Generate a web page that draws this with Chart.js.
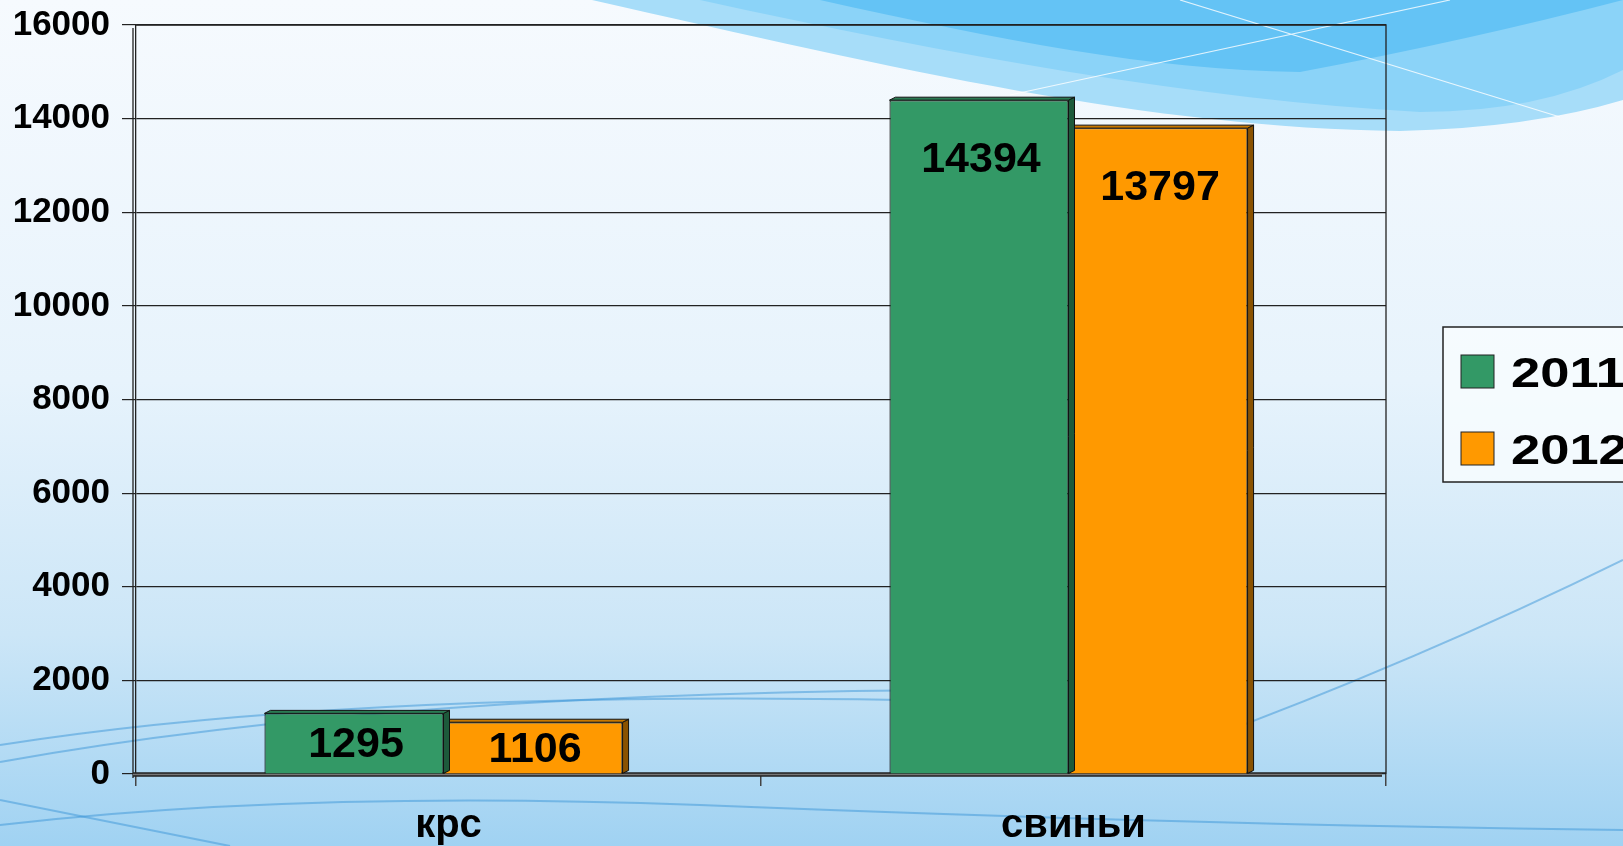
<!DOCTYPE html>
<html>
<head>
<meta charset="utf-8">
<script src="https://cdn.jsdelivr.net/npm/chart.js@4.4.0/dist/chart.umd.min.js"></script>
<style>
  html, body { margin: 0; padding: 0; overflow: hidden; background: #e4f2fb; }
  #chart { display: block; }
</style>
</head>
<body>
<canvas id="chart" width="1623" height="846"></canvas>
<script>
// data
var categories = ['крс', 'свиньи'];
var seriesNames = ['2011', '2012'];
var values2011 = [1295, 14394];
var values2012 = [1106, 13797];
var yMin = 0, yMax = 16000, yStep = 2000;

var FONT = "'Liberation Sans', Arial, sans-serif";
var fillColors = ['#339966', '#ff9900'];
var sideColors = ['#1d5a3b', '#8a5200'];
var topColors = ['#2a7a52', '#c87800'];

// background picture (slide template)
var backgroundPlugin = {
    id: 'slideBackground',
    beforeDraw: function(chart) {
        var ctx = chart.ctx, W = chart.width, H = chart.height;
        ctx.save();
        var g = ctx.createLinearGradient(0, 0, 0, H);
        g.addColorStop(0, '#f6fafe');
        g.addColorStop(0.45, '#e7f3fc');
        g.addColorStop(0.75, '#cce6f7');
        g.addColorStop(1, '#a0d2f2');
        ctx.fillStyle = g;
        ctx.fillRect(0, 0, W, H);

        // top right swoosh
        ctx.fillStyle = '#a7ddf9';
        ctx.beginPath();
        ctx.moveTo(592, 0);
        ctx.bezierCurveTo(900, 70, 1150, 128, 1400, 131);
        ctx.quadraticCurveTo(1530, 128, 1623, 100);
        ctx.lineTo(1623, 0);
        ctx.closePath();
        ctx.fill();

        ctx.fillStyle = '#8bd3f8';
        ctx.beginPath();
        ctx.moveTo(700, 0);
        ctx.bezierCurveTo(950, 55, 1200, 100, 1420, 112);
        ctx.quadraticCurveTo(1540, 112, 1623, 70);
        ctx.lineTo(1623, 0);
        ctx.closePath();
        ctx.fill();

        ctx.fillStyle = '#64c3f5';
        ctx.beginPath();
        ctx.moveTo(820, 0);
        ctx.bezierCurveTo(1000, 40, 1150, 70, 1300, 72);
        ctx.quadraticCurveTo(1470, 40, 1623, 0);
        ctx.closePath();
        ctx.fill();

        ctx.strokeStyle = 'rgba(255,255,255,0.8)';
        ctx.lineWidth = 1.2;
        ctx.beginPath();
        ctx.moveTo(1010, 95); ctx.lineTo(1450, 0);
        ctx.moveTo(1180, 0); ctx.lineTo(1560, 117);
        ctx.stroke();

        // thin curves at the bottom
        ctx.strokeStyle = 'rgba(60,150,215,0.5)';
        ctx.lineWidth = 2;
        ctx.beginPath();
        ctx.moveTo(0, 825);
        ctx.quadraticCurveTo(300, 790, 700, 805);
        ctx.quadraticCurveTo(1200, 825, 1623, 830);
        ctx.stroke();
        ctx.beginPath();
        ctx.moveTo(0, 762);
        ctx.quadraticCurveTo(400, 690, 1000, 690);
        ctx.stroke();
        ctx.beginPath();
        ctx.moveTo(0, 745);
        ctx.quadraticCurveTo(350, 690, 900, 700);
        ctx.stroke();
        ctx.beginPath();
        ctx.moveTo(1190, 745);
        ctx.quadraticCurveTo(1420, 660, 1623, 560);
        ctx.stroke();
        ctx.beginPath();
        ctx.moveTo(0, 800);
        ctx.quadraticCurveTo(150, 830, 230, 846);
        ctx.stroke();
        ctx.restore();
    }
};

// walls and floor of the 3d plot box
var wallsPlugin = {
    id: 'walls',
    beforeDatasetsDraw: function(chart) {
        var ctx = chart.ctx, a = chart.chartArea;
        ctx.save();
        ctx.strokeStyle = '#222';
        ctx.lineWidth = 1.3;
        ctx.beginPath();
        ctx.moveTo(a.left, a.top); ctx.lineTo(a.right, a.top); ctx.lineTo(a.right, a.bottom);
        ctx.moveTo(a.left - 3, a.top + 3); ctx.lineTo(a.left - 3, a.bottom + 4);
        ctx.stroke();
        ctx.fillStyle = '#777';
        ctx.fillRect(a.left - 3, a.bottom - 1, a.right - a.left - 1, 3);
        ctx.lineWidth = 1.5;
        ctx.beginPath();
        ctx.moveTo(a.left - 3, a.bottom - 1); ctx.lineTo(a.right, a.bottom - 1);
        ctx.moveTo(a.left - 3, a.bottom + 2); ctx.lineTo(a.right - 4, a.bottom + 2);
        ctx.stroke();
        ctx.restore();
    }
};

// side and top faces of the bars (bars sit a little left of the category centre)
var depthX = 6, depthY = 3, shiftX = -5;
var bar3dPlugin = {
    id: 'bar3d',
    beforeDatasetsDraw: function(chart) {
        chart.ctx.save();
        chart.ctx.translate(shiftX, 0);
    },
    afterDatasetDraw: function(chart, args) {
        var ctx = chart.ctx, i = args.index;
        ctx.save();
        ctx.strokeStyle = '#111';
        ctx.lineWidth = 1;
        args.meta.data.forEach(function(bar) {
            var p = bar.getProps(['x', 'y', 'base', 'width'], true);
            var l = p.x - p.width / 2, r = p.x + p.width / 2;
            ctx.fillStyle = sideColors[i];
            ctx.beginPath();
            ctx.moveTo(r, p.y); ctx.lineTo(r + depthX, p.y - depthY);
            ctx.lineTo(r + depthX, p.base - depthY); ctx.lineTo(r, p.base);
            ctx.closePath(); ctx.fill(); ctx.stroke();
            ctx.fillStyle = topColors[i];
            ctx.beginPath();
            ctx.moveTo(l, p.y); ctx.lineTo(l + depthX, p.y - depthY);
            ctx.lineTo(r + depthX, p.y - depthY); ctx.lineTo(r, p.y);
            ctx.closePath(); ctx.fill(); ctx.stroke();
        });
        ctx.restore();
    },
    afterDatasetsDraw: function(chart) {
        var ctx = chart.ctx;
        ctx.save();
        ctx.fillStyle = '#000';
        ctx.font = 'bold 43px ' + FONT;
        ctx.textAlign = 'center';
        ctx.textBaseline = 'middle';
        chart.data.datasets.forEach(function(ds, i) {
            chart.getDatasetMeta(i).data.forEach(function(bar, j) {
                var p = bar.getProps(['x', 'y', 'base'], true);
                var ly = Math.min(p.y + 60, (p.y + p.base) / 2 + 2);
                ctx.fillText(String(ds.data[j]), p.x + 2, ly);
            });
        });
        ctx.restore();
        ctx.restore();
    }
};

// legend box on the right, partly cut by the edge
var legendPlugin = {
    id: 'sideLegend',
    afterDraw: function(chart) {
        var ctx = chart.ctx;
        ctx.save();
        ctx.fillStyle = 'rgba(250,253,255,0.75)';
        ctx.fillRect(1443, 327, 200, 155);
        ctx.strokeStyle = '#222';
        ctx.lineWidth = 1.5;
        ctx.strokeRect(1443, 327, 200, 155);
        ctx.font = 'bold 42px ' + FONT;
        ctx.textBaseline = 'middle';
        ctx.textAlign = 'left';
        chart.data.datasets.forEach(function(ds, i) {
            var yTop = 355 + i * 77;
            ctx.fillStyle = ds.backgroundColor;
            ctx.fillRect(1461, yTop, 33, 33);
            ctx.lineWidth = 1;
            ctx.strokeRect(1461, yTop, 33, 33);
            ctx.fillStyle = '#000';
            ctx.save();
            ctx.translate(1511, yTop + 20);
            ctx.scale(1.25, 1);
            ctx.fillText(ds.label, 0, 0);
            ctx.restore();
        });
        ctx.restore();
    }
};

var chart = new Chart(document.getElementById('chart'), {
    type: 'bar',
    data: {
        labels: categories,
        datasets: [{
            label: seriesNames[0],
            data: values2011,
            backgroundColor: fillColors[0],
            borderColor: '#111',
            borderWidth: 1.2
        }, {
            label: seriesNames[1],
            data: values2012,
            backgroundColor: fillColors[1],
            borderColor: '#111',
            borderWidth: 1.2
        }]
    },
    options: {
        responsive: false,
        animation: false,
        categoryPercentage: 0.573,
        barPercentage: 1.0,
        layout: { padding: { top: 25, right: 237, left: 0, bottom: 0 } },
        plugins: {
            legend: { display: false },
            tooltip: { enabled: false }
        },
        scales: {
            x: {
                grid: { offset: true, drawOnChartArea: false, tickLength: 12, color: '#444', lineWidth: 1.5 },
                border: { display: false },
                ticks: { color: '#000', padding: 16, font: { family: FONT, size: 40, weight: 'bold' } },
                afterFit: function(scale) { scale.height = 72; }
            },
            y: {
                min: yMin,
                max: yMax,
                grid: { color: '#222', lineWidth: 1.2, tickLength: 14 },
                border: { display: true, color: '#222', width: 1.3 },
                ticks: {
                    stepSize: yStep, color: '#000', padding: 12,
                    font: { family: FONT, size: 35, weight: 'bold', lineHeight: 0.6 },
                    callback: function(v) { return String(v); }
                },
                afterFit: function(scale) { scale.width = 136; }
            }
        }
    },
    plugins: [backgroundPlugin, wallsPlugin, bar3dPlugin, legendPlugin]
});
</script>
</body>
</html>
